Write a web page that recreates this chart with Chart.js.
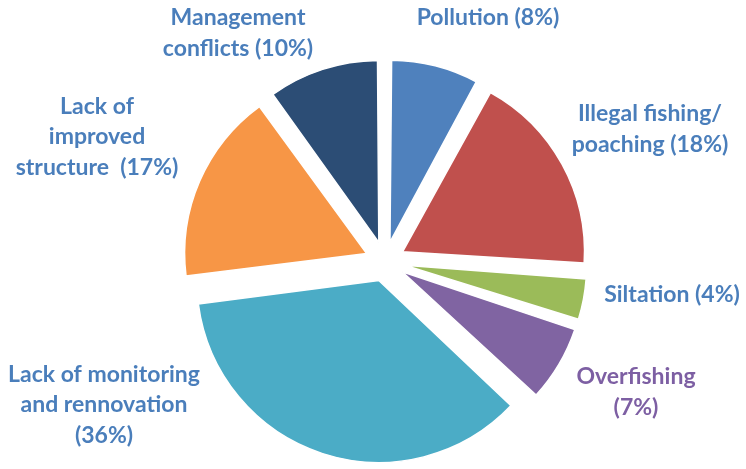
<!DOCTYPE html>
<html>
<head>
<meta charset="utf-8">
<script src="https://cdn.jsdelivr.net/npm/chart.js@4/dist/chart.umd.min.js"></script>
<style>
  html, body { margin: 0; padding: 0; background: #ffffff; }
  #wrap { width: 746px; height: 469px; position: relative; }
</style>
</head>
<body>
<div id="wrap"><canvas id="pie" width="746" height="469"></canvas></div>
<script>
// Causes of problems, share of responses (%)
const categories = [
  'Pollution',
  'Illegal fishing/ poaching',
  'Siltation',
  'Overfishing',
  'Lack of monitoring and rennovation',
  'Lack of improved structure',
  'Management conflicts'
];
const shares = [8, 18, 4, 7, 36, 17, 10];
const sliceColors = ['#4F81BD', '#C0504D', '#9BBB59', '#8064A2', '#4BACC6', '#F79646', '#2C4D75'];

// Label text lines per slice, and where each text block is centred
const labelLines = [
  ['Pollution (8%)'],
  ['Illegal fishing/', 'poaching (18%)'],
  ['Siltation (4%)'],
  ['Overfishing', '(7%)'],
  ['Lack of monitoring', 'and rennovation', '(36%)'],
  ['Lack of', 'improved', 'structure  (17%)'],
  ['Management', 'conflicts (10%)']
];
const labelColors = ['#4A7EBB', '#4A7EBB', '#4A7EBB', '#7D5FA3', '#4A7EBB', '#4A7EBB', '#4A7EBB'];
const labelAnchors = [
  [488, 18], [650, 129], [672, 295], [636, 392], [104, 405], [97, 137], [238, 33]
];

const PIE_RADIUS = 182;
const EXPLODE = 80; // Chart.js translates each arc by offset / 4

// Keep every exploded slice at the same outer radius
// (Chart.js widens narrow arcs by offset/4 * (1 - sin(circumference)))
const evenRadius = {
  id: 'evenRadius',
  beforeDatasetsDraw(chart) {
    const meta = chart.getDatasetMeta(0);
    const base = meta.controller.outerRadius;
    meta.data.forEach((arc) => {
      const shift = (arc.options.offset || 0) / 4;
      const fix = 1 - Math.sin(Math.min(Math.PI, arc.circumference));
      arc.outerRadius = base - shift * fix;
    });
  }
};

// Category labels outside the pie
const sliceLabels = {
  id: 'sliceLabels',
  afterDraw(chart) {
    const ctx = chart.ctx;
    ctx.save();
    ctx.font = 'bold 23px Lato, "Open Sans", sans-serif';
    ctx.textAlign = 'center';
    ctx.textBaseline = 'middle';
    const lineH = 30.5;
    labelLines.forEach((lines, i) => {
      const [x, y] = labelAnchors[i];
      const top = y - (lines.length - 1) * lineH / 2;
      ctx.fillStyle = labelColors[i];
      lines.forEach((t, k) => ctx.fillText(t, x, top + k * lineH));
    });
    ctx.restore();
  }
};

new Chart(document.getElementById('pie'), {
  type: 'pie',
  data: {
    labels: categories,
    datasets: [{
      data: shares,
      backgroundColor: sliceColors,
      borderColor: '#ffffff',
      borderWidth: 1.5,
      offset: EXPLODE
    }]
  },
  options: {
    responsive: false,
    animation: false,
    radius: PIE_RADIUS,
    layout: { padding: { left: 24, top: 54, right: 0, bottom: 0 } },
    plugins: {
      legend: { display: false },
      tooltip: { enabled: false },
      title: { display: false }
    }
  },
  plugins: [evenRadius, sliceLabels]
});
</script>
</body>
</html>
